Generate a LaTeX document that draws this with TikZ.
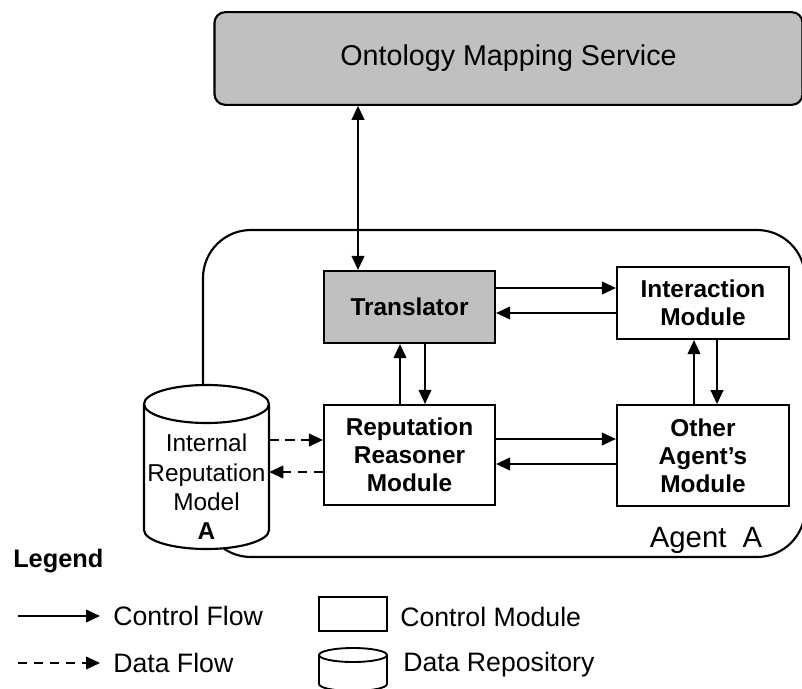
\documentclass[tikz,border=0pt]{standalone}
\usepackage{fontspec}
\setmainfont{Liberation Sans}
\usetikzlibrary{arrows.meta,calc}
\definecolor{boxgray}{RGB}{192,192,192}
\tikzset{
  modbox/.style={draw=black,line width=1.6pt,fill=white,inner sep=0pt,align=center,
    font=\bfseries\fontsize{18.3pt}{21pt}\selectfont},
  cf/.style={line width=1.4pt,-{Triangle[length=10.5pt,width=9.5pt]}},
  df/.style={line width=1.4pt,dash pattern=on 7pt off 5pt,-{Triangle[length=10.5pt,width=9.5pt]}},
  lgtext/.style={anchor=west,inner sep=0pt,font=\fontsize{20pt}{24pt}\selectfont},
}
\begin{document}
\begin{tikzpicture}[x=0.75pt,y=-0.75pt]
\useasboundingbox (0,0) rectangle (802,688);
% Ontology Mapping Service
\node[draw=black,line width=1.6pt,fill=boxgray,rounded corners=8pt,
  minimum width=441pt,minimum height=69.5pt,inner sep=0pt,
  font=\fontsize{21.5pt}{24pt}\selectfont] (oms) at (508.5,58.5) {Ontology Mapping Service};
% Agent A container
\draw[line width=1.6pt,rounded corners=36pt] (203,230) rectangle (805,557);
\node[inner sep=0pt,font=\fontsize{22pt}{26pt}\selectfont] (agent) at (706,540) {Agent\hspace{0.55em}A};
% modules
\node[modbox,fill=boxgray,minimum width=128.25pt,minimum height=54pt] (trans) at (409.5,307) {Translator};
\node[modbox,minimum width=129pt,minimum height=54pt] (inter) at (703,303) {Interaction\\Module};
\node[modbox,minimum width=128.25pt,minimum height=75pt] (rrm) at (409.5,455) {Reputation\\Reasoner\\Module};
\node[modbox,minimum width=129pt,minimum height=75.5pt] (other) at (703,455.5) {Other\\Agent's\\Module};
% cylinder (Internal Reputation Model A)
\filldraw[fill=white,line width=1.6pt] (144,404) -- (144,530) arc (180:360:46.875pt and 14.25pt) -- (269,404) arc (0:180:46.875pt and 14.25pt) -- cycle;
\draw[line width=1.6pt] (144,404) arc (180:360:46.875pt and 14.25pt);
\node[inner sep=0pt,minimum width=93.75pt,minimum height=100pt,align=center,
  font=\fontsize{18.3pt}{22pt}\selectfont] (cyl) at (206.5,487) {Internal\\Reputation\\Model\\\textbf{A}};
% connectors
\draw[line width=1.4pt,{Triangle[length=10.5pt,width=9.5pt]}-{Triangle[length=10.5pt,width=9.5pt]}] (oms.south -| 358,0) -- (trans.north -| 358,0);
\draw[cf] (trans.east |- 0,288) -- (inter.west |- 0,288);
\draw[cf] (inter.west |- 0,313) -- (trans.east |- 0,313);
\draw[cf] (rrm.north -| 400,0) -- (trans.south -| 400,0);
\draw[cf] (trans.south -| 425,0) -- (rrm.north -| 425,0);
\draw[cf] (other.north -| 694,0) -- (inter.south -| 694,0);
\draw[cf] (inter.south -| 717,0) -- (other.north -| 717,0);
\draw[cf] (rrm.east |- 0,439) -- (other.west |- 0,439);
\draw[cf] (other.west |- 0,464) -- (rrm.east |- 0,464);
\draw[df] (cyl.east |- 0,440) -- (rrm.west |- 0,440);
\draw[df] (rrm.west |- 0,472) -- (cyl.east |- 0,472);
% legend
\node[anchor=west,inner sep=0pt,font=\bfseries\fontsize{19pt}{22pt}\selectfont] (legend) at (13,561) {Legend};
\node[lgtext] (cft) at (113,616) {Control Flow};
\coordinate (c1) at (18,616);
\draw[cf] (c1) -- (cft.west -| 100,0);
\node[lgtext] (dft) at (113,663) {Data Flow};
\coordinate (d1) at (18,663);
\draw[df] (d1) -- (dft.west -| 100,0);
\node[draw=black,line width=1.4pt,minimum width=51pt,minimum height=25.5pt,inner sep=0pt] (lgbox) at (353,614) {};
\node[lgtext] (cmt) at (400,617) {Control Module};
\filldraw[fill=white,line width=1.4pt] (319,655) -- (319,684) arc (180:360:25.5pt and 5.25pt) -- (387,655) arc (0:180:25.5pt and 5.25pt) -- cycle;
\draw[line width=1.4pt] (319,655) arc (180:360:25.5pt and 5.25pt);
\node[lgtext] (drt) at (403,665) {Data Repository};
\end{tikzpicture}
\end{document}
